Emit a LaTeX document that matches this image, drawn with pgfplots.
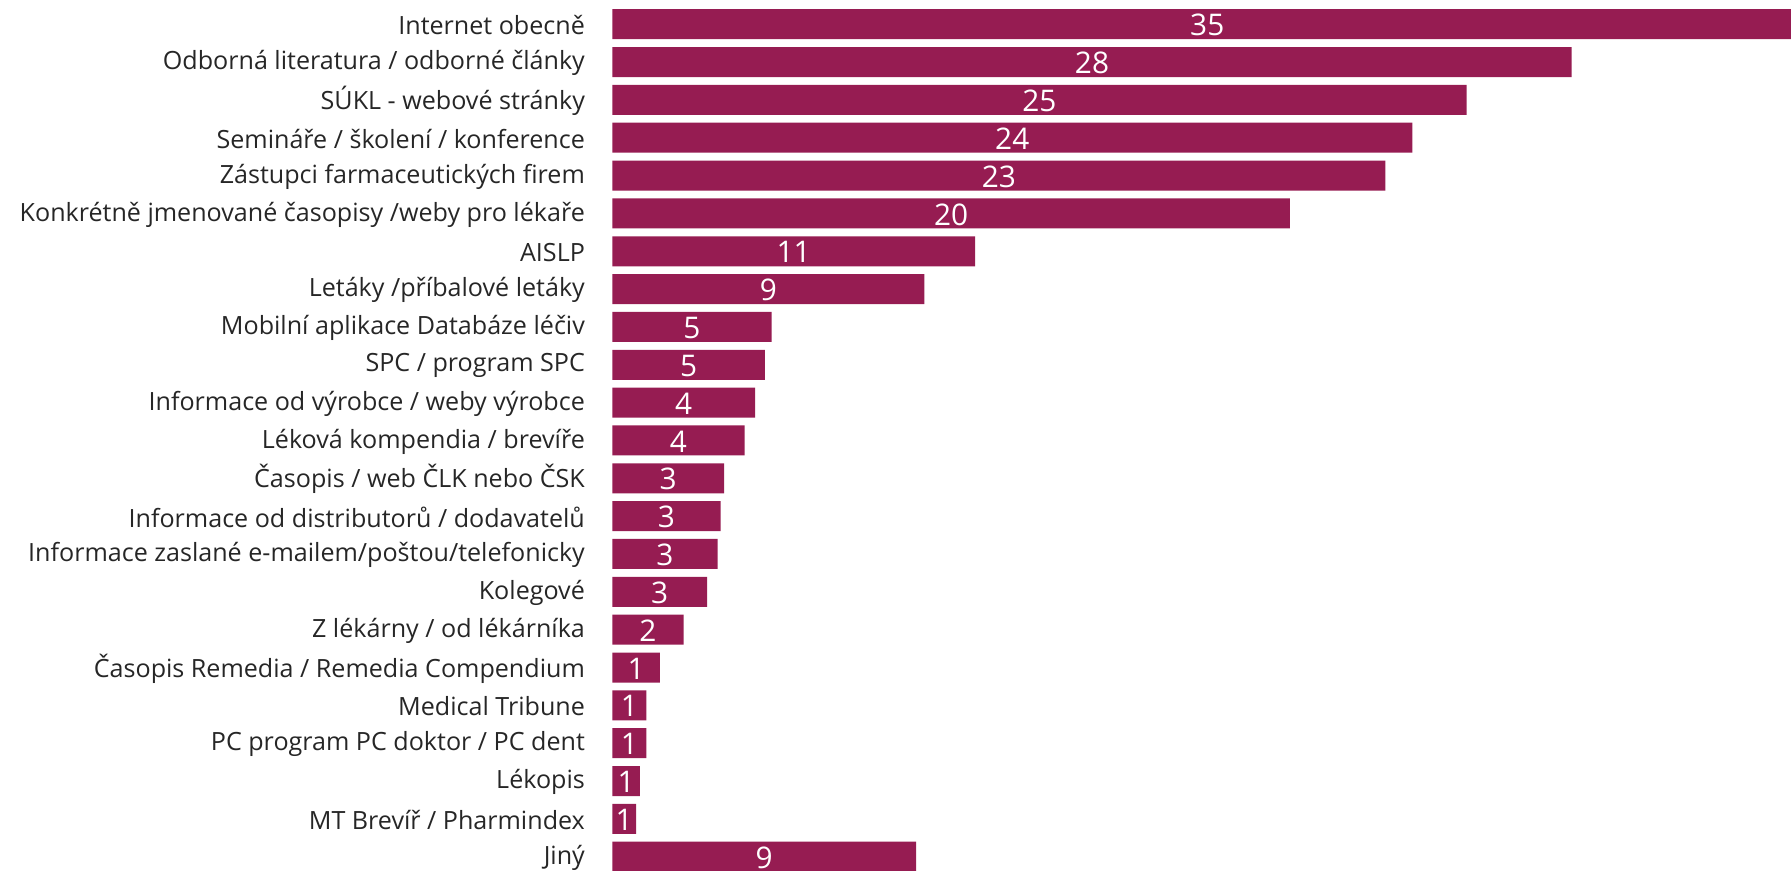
\documentclass[border=0pt]{standalone}
\usepackage{fontspec}
\setmainfont{Open Sans}
\usepackage{pgfplots}
\usepackage{pgfplotstable}
\pgfplotsset{compat=1.18}
\definecolor{barc}{RGB}{150,28,82}
\definecolor{txt}{RGB}{38,38,38}
\pgfplotstableread{
y v lab
0 35 35
1 28.22 28
2 25.13 25
3 23.53 24
4 22.74 23
5 19.93 20
6 10.67 11
7 9.18 9
8 4.69 5
9 4.49 5
10 4.20 4
11 3.89 4
12 3.29 3
13 3.19 3
14 3.10 3
15 2.79 3
16 2.10 2
17 1.40 1
18 1.00 1
19 1.00 1
20 0.81 1
21 0.70 1
22 8.94 9
}\datatab
\begin{document}
\begin{tikzpicture}
\begin{axis}[
  scale only axis,
  width=589.35bp, height=435.5bp,
  xmin=0, xmax=34.67,
  ymin=-0.64, ymax=22.378,
  y dir=reverse,
  axis line style={draw=none},
  major tick length=0pt,
  xtick=\empty,
  ytick={0,...,22},
  yticklabels={Internet obecně, Odborná literatura / odborné články, SÚKL - webové stránky, Semináře / školení / konference, Zástupci farmaceutických firem, Konkrétně jmenované časopisy /weby pro lékaře, AISLP, Letáky /příbalové letáky, Mobilní aplikace Databáze léčiv, SPC / program SPC, Informace od výrobce / weby výrobce, Léková kompendia / brevíře, Časopis / web ČLK nebo ČSK, Informace od distributorů / dodavatelů, Informace zaslané e-mailem/poštou/telefonicky, Kolegové, Z lékárny / od lékárníka, Časopis Remedia / Remedia Compendium, Medical Tribune, PC program PC doktor / PC dent, Lékopis, MT Brevíř / Pharmindex, Jiný},
  yticklabel style={font=\fontsize{12.55bp}{15bp}\selectfont, text=txt, inner sep=0pt, xshift=-13.5bp, yshift=-0.5bp},
]
\addplot[xbar, bar width=15bp, fill=barc, draw=none] table[x=v, y=y] {\datatab};
\addplot[draw=none, mark=none, nodes near coords, point meta=explicit symbolic,
  every node near coord/.append style={anchor=center, text=white, font=\fontsize{14.9bp}{16bp}\selectfont, inner sep=0pt, yshift=-0.5bp}]
  table[x expr=\thisrow{v}/2, y=y, meta=lab] {\datatab};
\end{axis}
\pgfresetboundingbox
\path (current axis.south west) ++(-306.15bp,0) rectangle (current axis.north east);
\end{tikzpicture}
\end{document}
